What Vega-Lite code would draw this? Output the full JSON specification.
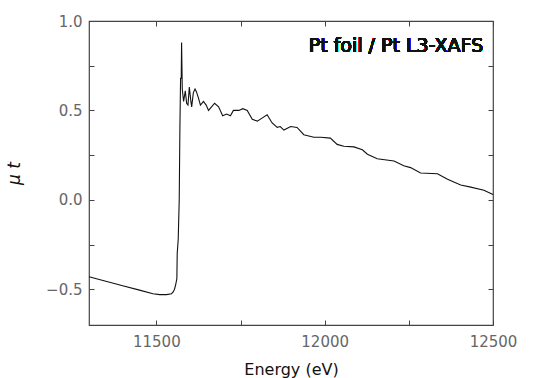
{
  "$schema": "https://vega.github.io/schema/vega-lite/v6.json",
  "autosize": "none",
  "padding": {"left": 89, "top": 21, "right": 40, "bottom": 53},
  "width": 404,
  "height": 304,
  "background": "white",
  "config": {
    "view": {"stroke": "#444", "strokeWidth": 1.2},
    "axis": {
      "domain": false,
      "grid": false,
      "tickSize": -5,
      "tickColor": "#444",
      "labelFont": "DejaVu Sans",
      "labelFontSize": 15,
      "labelColor": "#666",
      "titleFont": "DejaVu Sans",
      "titleFontSize": 16,
      "titleFontWeight": "normal",
      "titleColor": "#111"
    }
  },
  "data": {
    "values": [
      {"E": 11300, "mu": -0.43},
      {"E": 11350, "mu": -0.455},
      {"E": 11400, "mu": -0.48},
      {"E": 11450, "mu": -0.505},
      {"E": 11490, "mu": -0.525},
      {"E": 11510, "mu": -0.53},
      {"E": 11530, "mu": -0.53},
      {"E": 11545, "mu": -0.525},
      {"E": 11550, "mu": -0.515},
      {"E": 11554, "mu": -0.5},
      {"E": 11558, "mu": -0.47},
      {"E": 11561, "mu": -0.44},
      {"E": 11562, "mu": -0.3},
      {"E": 11565, "mu": -0.22},
      {"E": 11568, "mu": 0.0},
      {"E": 11570, "mu": 0.4},
      {"E": 11572, "mu": 0.68},
      {"E": 11574, "mu": 0.68},
      {"E": 11575, "mu": 0.88},
      {"E": 11577, "mu": 0.62},
      {"E": 11581, "mu": 0.55},
      {"E": 11586, "mu": 0.61},
      {"E": 11590, "mu": 0.54},
      {"E": 11594, "mu": 0.53},
      {"E": 11598, "mu": 0.63},
      {"E": 11602, "mu": 0.56},
      {"E": 11605, "mu": 0.52},
      {"E": 11610, "mu": 0.6},
      {"E": 11615, "mu": 0.62},
      {"E": 11619, "mu": 0.605},
      {"E": 11625, "mu": 0.57},
      {"E": 11631, "mu": 0.53},
      {"E": 11640, "mu": 0.55},
      {"E": 11648, "mu": 0.53},
      {"E": 11655, "mu": 0.5},
      {"E": 11664, "mu": 0.52},
      {"E": 11673, "mu": 0.54},
      {"E": 11685, "mu": 0.52},
      {"E": 11697, "mu": 0.47},
      {"E": 11709, "mu": 0.48},
      {"E": 11720, "mu": 0.47},
      {"E": 11729, "mu": 0.5},
      {"E": 11745, "mu": 0.5},
      {"E": 11757, "mu": 0.51},
      {"E": 11770, "mu": 0.5},
      {"E": 11785, "mu": 0.45},
      {"E": 11800, "mu": 0.44},
      {"E": 11814, "mu": 0.457},
      {"E": 11829, "mu": 0.476},
      {"E": 11844, "mu": 0.43},
      {"E": 11859, "mu": 0.405},
      {"E": 11868, "mu": 0.41},
      {"E": 11879, "mu": 0.39},
      {"E": 11899, "mu": 0.41},
      {"E": 11918, "mu": 0.405},
      {"E": 11938, "mu": 0.364},
      {"E": 11968, "mu": 0.35},
      {"E": 11988, "mu": 0.35},
      {"E": 12017, "mu": 0.345},
      {"E": 12037, "mu": 0.31},
      {"E": 12057, "mu": 0.3},
      {"E": 12087, "mu": 0.296},
      {"E": 12112, "mu": 0.28},
      {"E": 12127, "mu": 0.255},
      {"E": 12156, "mu": 0.23},
      {"E": 12206, "mu": 0.217},
      {"E": 12235, "mu": 0.19},
      {"E": 12255, "mu": 0.18},
      {"E": 12285, "mu": 0.15},
      {"E": 12335, "mu": 0.146},
      {"E": 12365, "mu": 0.115},
      {"E": 12404, "mu": 0.083},
      {"E": 12434, "mu": 0.071},
      {"E": 12473, "mu": 0.054},
      {"E": 12500, "mu": 0.03}
    ]
  },
  "layer": [
    {
      "mark": {"type": "line", "color": "#111", "strokeWidth": 1.1, "interpolate": "linear"},
      "encoding": {
        "x": {
          "field": "E", "type": "quantitative",
          "scale": {"domain": [11300, 12500], "nice": false, "zero": false},
          "axis": {
            "orient": "bottom",
            "values": [11500, 11750, 12000, 12250, 12500],
            "labelExpr": "datum.value % 500 === 0 ? format(datum.value, 'd') : ''",
            "labelPadding": 14,
            "labelFlush": false,
            "title": "Energy (eV)",
            "titlePadding": 12
          }
        },
        "y": {
          "field": "mu", "type": "quantitative",
          "scale": {"domain": [-0.7, 1.0], "nice": false, "zero": false},
          "axis": {
            "orient": "left",
            "values": [-0.5, -0.25, 0, 0.25, 0.5, 0.75, 1.0],
            "labelExpr": "abs(datum.value * 2 - round(datum.value * 2)) < 0.001 ? format(datum.value, '.1f') : ''",
            "labelPadding": 12,
            "labelFlush": false,
            "title": "μ t",
            "titleFontStyle": "italic",
            "titleFontSize": 17,
            "titlePadding": 22
          }
        }
      }
    },
    {
      "mark": {"type": "line", "opacity": 0},
      "encoding": {
        "x": {
          "field": "E", "type": "quantitative",
          "axis": {"orient": "top", "values": [11500, 11750, 12000, 12250, 12500], "labels": false, "title": null}
        },
        "y": {
          "field": "mu", "type": "quantitative",
          "axis": {"orient": "right", "values": [-0.5, -0.25, 0, 0.25, 0.5, 0.75, 1.0], "labels": false, "title": null}
        }
      }
    },
    {
      "mark": {"type": "text", "align": "right", "baseline": "middle", "font": "DejaVu Sans", "fontSize": 19, "color": "#111", "text": "Pt foil / Pt L3-XAFS"},
      "encoding": {
        "x": {"datum": 12471, "type": "quantitative", "axis": null},
        "y": {"datum": 0.86, "type": "quantitative", "axis": null}
      }
    }
  ],
  "resolve": {"axis": {"x": "independent", "y": "independent"}}
}
